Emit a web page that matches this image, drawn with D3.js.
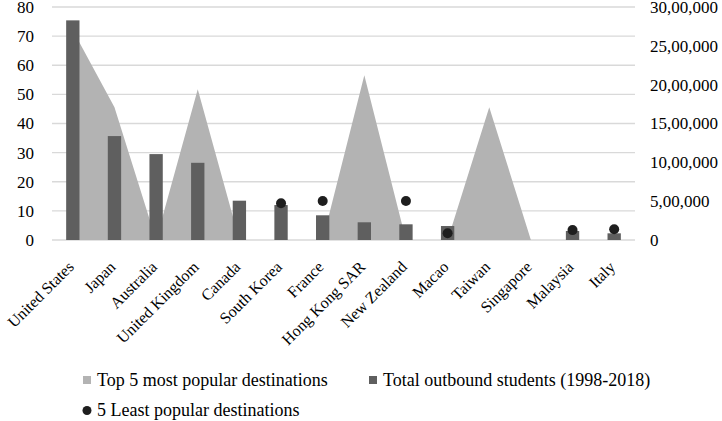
<!DOCTYPE html>
<html>
<head>
<meta charset="utf-8">
<script src="https://cdn.jsdelivr.net/npm/d3@7"></script>
<style>
  body { margin: 0; background: #fff; }
  text { font-family: "Liberation Serif", "Times New Roman", serif; fill: #000; }
</style>
</head>
<body>
<script>
// categories along the x axis
var countries = ["United States", "Japan", "Australia", "United Kingdom", "Canada", "South Korea",
  "France", "Hong Kong SAR", "New Zealand", "Macao", "Taiwan", "Singapore", "Malaysia", "Italy"];

// area series (left axis)
var topFive = [72, 45.6, 0, 51.8, 0, 0, 0, 56.6, 0, 0, 45.6, 0, null, null];

// bar series (right axis)
var outbound = [2828000, 1338000, 1106000, 994000, 506000, 450000, 318000, 228000, 202000, 180000,
  0, 0, 116000, 86000];

// dot series (left axis)
var leastFive = [null, null, null, null, null, 12.6, 13.4, null, 13.4, 2.3, null, null, 3.4, 3.7];

var leftTicks = [0, 10, 20, 30, 40, 50, 60, 70, 80];
var rightTicks = [0, 500000, 1000000, 1500000, 2000000, 2500000, 3000000];

var W = 722, H = 421;
var mLeft = 52, mRight = 635, mTop = 7, mBottom = 240;

var svg = d3.select("body").append("svg")
  .attr("width", W)
  .attr("height", H);

var x = d3.scaleBand().domain(countries).range([mLeft, mRight]).padding(0);
var yL = d3.scaleLinear().domain([0, 80]).range([mBottom, mTop]);
var yR = d3.scaleLinear().domain([0, 3000000]).range([mBottom, mTop]);

// indian style grouping: 30,00,000
function fmtIN(n) {
  var s = String(Math.round(n));
  if (s.length <= 3) return s;
  var last = s.slice(-3), rest = s.slice(0, -3);
  rest = rest.replace(/\B(?=(\d{2})+(?!\d))/g, ",");
  return rest + "," + last;
}

// gridlines
svg.append("g")
  .selectAll("line")
  .data(leftTicks)
  .join("line")
  .attr("x1", mLeft)
  .attr("x2", mRight)
  .attr("y1", d => yL(d))
  .attr("y2", d => yL(d))
  .attr("stroke", "#d9d9d9")
  .attr("stroke-width", 1.3);

// left axis
var axL = svg.append("g")
  .attr("transform", "translate(" + mLeft + ",0)")
  .call(d3.axisLeft(yL).tickValues(leftTicks).tickSize(0).tickPadding(18));
axL.select(".domain").remove();
axL.selectAll("text").style("font-size", "17px").style("font-family", "Liberation Serif, serif");

// right axis
var axR = svg.append("g")
  .attr("transform", "translate(" + mRight + ",0)")
  .call(d3.axisRight(yR).tickValues(rightTicks).tickFormat(fmtIN).tickSize(0).tickPadding(15));
axR.select(".domain").remove();
axR.selectAll("text").style("font-size", "17px").style("font-family", "Liberation Serif, serif");

var cx = d => x(d) + x.bandwidth() / 2;

// area
var areaData = countries.map((c, i) => ({ c: c, v: topFive[i] }));
var area = d3.area()
  .defined(d => d.v !== null)
  .x(d => cx(d.c))
  .y0(yL(0))
  .y1(d => yL(d.v));
svg.append("path")
  .datum(areaData)
  .attr("d", area)
  .attr("fill", "#b3b3b3");

// bars
var barW = x.bandwidth() * 0.32;
svg.append("g")
  .selectAll("rect")
  .data(countries.map((c, i) => ({ c: c, v: outbound[i] })))
  .join("rect")
  .attr("x", d => cx(d.c) - barW / 2)
  .attr("width", barW)
  .attr("y", d => yR(d.v))
  .attr("height", d => yR(0) - yR(d.v))
  .attr("fill", "#5f5f5f");

// dots
svg.append("g")
  .selectAll("circle")
  .data(countries.map((c, i) => ({ c: c, v: leastFive[i] })).filter(d => d.v !== null))
  .join("circle")
  .attr("cx", d => cx(d.c))
  .attr("cy", d => yL(d.v))
  .attr("r", 5)
  .attr("fill", "#1e1e1e");

// x labels, rotated
svg.append("g")
  .selectAll("text")
  .data(countries)
  .join("text")
  .attr("transform", d => "translate(" + (cx(d) - 2) + "," + (mBottom + 24) + ") rotate(-45)")
  .attr("text-anchor", "end")
  .attr("dy", "0.35em")
  .style("font-size", "16px")
  .text(d => d);

// legend
var lg = svg.append("g");
lg.append("rect").attr("x", 83).attr("y", 376).attr("width", 8).attr("height", 8).attr("fill", "#b3b3b3");
lg.append("text").attr("x", 97).attr("y", 386).style("font-size", "18px").text("Top 5 most popular destinations");
lg.append("rect").attr("x", 369).attr("y", 376).attr("width", 8).attr("height", 8).attr("fill", "#5f5f5f");
lg.append("text").attr("x", 383).attr("y", 386).style("font-size", "18px").text("Total outbound students (1998-2018)");
lg.append("circle").attr("cx", 87).attr("cy", 410.5).attr("r", 4.5).attr("fill", "#1e1e1e");
lg.append("text").attr("x", 97).attr("y", 416).style("font-size", "18px").text("5 Least popular destinations");
</script>
</body>
</html>
